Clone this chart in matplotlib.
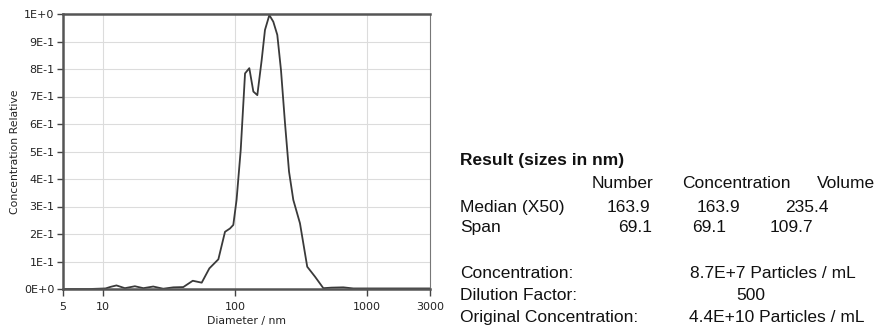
import matplotlib
matplotlib.use("Agg")
import matplotlib.pyplot as plt
from matplotlib.ticker import FixedLocator, NullLocator

# ---- data ----
diameter_nm = [5, 8, 10.5, 11.5, 12.7, 14.7, 17.5, 20.3, 24.1, 28.7, 34.2, 40.7, 48.0, 56.1,
               64.1, 75.0, 84.2, 91.8, 97.3, 103, 110.7, 119.4, 128.6, 138, 147.9, 159.6,
               169, 182.4, 195.4, 209.5, 223.4, 239.6, 257, 276.9, 311, 353, 404, 467.5,
               541, 662, 789, 1000, 3000]
conc_relative = [0.0, 0.0, 0.002, 0.008, 0.013, 0.003, 0.010, 0.003, 0.009, 0.001, 0.006, 0.007,
                 0.030, 0.023, 0.075, 0.108, 0.208, 0.220, 0.233, 0.324, 0.505, 0.784, 0.803,
                 0.718, 0.705, 0.833, 0.942, 0.996, 0.972, 0.924, 0.796, 0.603, 0.427, 0.324,
                 0.239, 0.081, 0.045, 0.003, 0.005, 0.006, 0.002, 0.002, 0.002]

x_ticks = [5, 10, 100, 1000, 3000]
x_tick_labels = ["5", "10", "100", "1000", "3000"]
y_ticks = [0.0, 0.1, 0.2, 0.3, 0.4, 0.5, 0.6, 0.7, 0.8, 0.9, 1.0]
y_tick_labels = ["0E+0", "1E-1", "2E-1", "3E-1", "4E-1", "5E-1", "6E-1", "7E-1", "8E-1", "9E-1", "1E+0"]

result_header = "Result (sizes in nm)"
col_headers = ["Number", "Concentration", "Volume"]
median_vals = ["163.9", "163.9", "235.4"]
span_vals = ["69.1", "69.1", "109.7"]
info_labels = ["Concentration:", "Dilution Factor:", "Original Concentration:"]
info_values = ["8.7E+7 Particles / mL", "500", "4.4E+10 Particles / mL"]

W, H = 875, 327
fig = plt.figure(figsize=(W / 100, H / 100), dpi=100)
fig.patch.set_facecolor("white")

ax = fig.add_axes([63 / W, 1 - 289 / H, (430 - 63) / W, (289 - 14) / H])
ax.plot(diameter_nm, conc_relative, color="#3a3a3a", lw=1.3)
ax.set_xscale("log")
ax.set_xlim(5, 3000)
ax.set_ylim(0, 1.0)
ax.xaxis.set_major_locator(FixedLocator(x_ticks))
ax.xaxis.set_minor_locator(NullLocator())
ax.set_xticklabels(x_tick_labels)
ax.set_yticks(y_ticks)
ax.set_yticklabels(y_tick_labels)

for lab in ax.get_xticklabels() + ax.get_yticklabels():
    lab.set_fontfamily("DejaVu Sans")
    lab.set_fontsize(8)
    lab.set_color("#222222")
ax.tick_params(axis="x", direction="out", length=5, width=1.0, colors="#444444", pad=4, labelcolor="#222222")
ax.tick_params(axis="y", direction="out", length=4, width=1.0, colors="#444444", pad=2, labelcolor="#222222")

# grid
for yv in y_ticks[1:-1]:
    ax.axhline(yv, color="#dcdcdc", lw=0.8, zorder=0)
for xv in [10, 100, 1000]:
    ax.axvline(xv, color="#dcdcdc", lw=0.8, zorder=0)

for side in ["left", "top", "bottom"]:
    ax.spines[side].set_color("#555555")
    ax.spines[side].set_linewidth(1.8)
ax.spines["right"].set_color("#777777")
ax.spines["right"].set_linewidth(0.8)

ax.set_xlabel("Diameter / nm", fontfamily="DejaVu Sans", fontsize=7.8, labelpad=3, color="#222222")
ax.set_ylabel("Concentration Relative", fontfamily="DejaVu Sans", fontsize=7.8, labelpad=3, color="#222222")

# ---- results text ----
def t(x, y, s, **kw):
    fig.text(x / W, 1 - y / H, s, va="baseline", ha="left", fontfamily="Liberation Sans",
             fontsize=12.5, color="#111111", **kw)

t(460, 165, result_header, fontweight="bold")
for x, s in zip([591.7, 681.7, 816.7], col_headers):
    t(x, 188.3, s)
t(460, 211.7, "Median (X50)")
for x, s in zip([606.7, 696.7, 785], median_vals):
    t(x, 211.7, s)
t(460, 231.7, "Span")
for x, s in zip([618.3, 691.7, 770], span_vals):
    t(x, 231.7, s)
for yb, lab, val, xv in zip([278.3, 300, 321.7], info_labels, info_values, [690, 736, 689.3]):
    t(460, yb, lab)
    t(xv, yb, val)

fig.savefig("out.png", dpi=100)
